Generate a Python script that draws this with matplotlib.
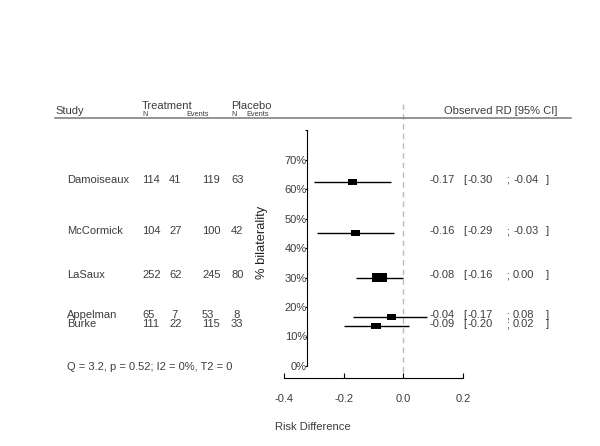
import matplotlib
matplotlib.use("Agg")
import matplotlib.pyplot as plt
from matplotlib import transforms
from matplotlib.lines import Line2D

plt.rcParams['font.family'] = ['Liberation Sans', 'DejaVu Sans']
plt.rcParams['axes.unicode_minus'] = False

# data
studies = ['Damoiseaux', 'McCormick', 'LaSaux', 'Appelman', 'Burke']
trt_n = [114, 104, 252, 65, 111]
trt_events = [41, 27, 62, 7, 22]
pla_n = [119, 100, 245, 53, 115]
pla_events = [63, 42, 80, 8, 33]
rd = [-0.17, -0.16, -0.08, -0.04, -0.09]
ci_lo = [-0.30, -0.29, -0.16, -0.17, -0.20]
ci_hi = [-0.04, -0.03, 0.00, 0.08, 0.02]
bilaterality = [62.5, 45.0, 30.0, 16.5, 13.5]
weight = [21, 20, 44, 21, 25]
het_text = 'Q = 3.2, p = 0.52; I2 = 0%, T2 = 0'
yticks = [0, 10, 20, 30, 40, 50, 60, 70, 80]
xticks = [-0.4, -0.2, 0.0, 0.2]

W, H = 600, 446
col = '#3c3c3c'
fs = 8

fig = plt.figure(figsize=(6, 4.46), dpi=100)
ax = fig.add_axes([284 / W, (H - 366) / H, 179 / W, 236 / H])
ax.set_xlim(-0.4, 0.2)
ax.set_ylim(0, 80)

# CIs and boxes
ax.hlines(bilaterality, ci_lo, ci_hi, color='black', lw=1.0, zorder=3)
rect = [(-1, -0.66), (1, -0.66), (1, 0.66), (-1, 0.66), (-1, -0.66)]
sizes = [((4.5 + w * 0.22) * 0.72) ** 2 for w in weight]
ax.scatter(rd, bilaterality, s=sizes, marker=rect, color='black', lw=0, zorder=4)

# reference line at 0
ax.plot([0, 0], [-2, 89], ls=(0, (4, 3)), color='#bbbbbb', lw=1.0, clip_on=False, zorder=1)

# axes in R style
ax.spines['top'].set_visible(False)
ax.spines['right'].set_visible(False)
ax.spines['left'].set_position(('data', -0.323))
ax.spines['bottom'].set_position(('outward', 8.6))
ax.spines['bottom'].set_bounds(-0.4, 0.2)
ax.set_yticks(yticks)
ax.set_yticklabels([f'{t}%' if t < 80 else '' for t in yticks])
ax.set_xticks(xticks)
ax.set_xticklabels([f'{t:.1f}' for t in xticks])
ax.tick_params(axis='y', direction='out', length=1.5, pad=-1.5, labelsize=fs, labelcolor=col, width=0.8)
ax.tick_params(axis='x', direction='in', length=3.6, pad=11.5, labelsize=fs, labelcolor=col, width=0.8)
ax.set_ylabel('% bilaterality', fontsize=9.3, color='#222222')
ax.yaxis.set_label_coords((268 - 284) / 179, (366 - 242) / 236)
ax.set_xlabel('Risk Difference', fontsize=fs, color=col)
ax.xaxis.set_label_coords((313 - 284) / 179, (366 - 427) / 236)
ax.xaxis.label.set_va('center')

# header
def fx(px):
    return px / W

def fy(py):
    return 1 - py / H

fig.text(fx(55), fy(111), 'Study', fontsize=fs, color=col, va='center')
fig.text(fx(142), fy(106), 'Treatment', fontsize=fs, color=col, va='center')
fig.text(fx(142), fy(115), 'N', fontsize=5.3, color=col, va='center')
fig.text(fx(186), fy(115), 'Events', fontsize=5.3, color=col, va='center')
fig.text(fx(231), fy(106), 'Placebo', fontsize=fs, color=col, va='center')
fig.text(fx(231), fy(115), 'N', fontsize=5.3, color=col, va='center')
fig.text(fx(246), fy(115), 'Events', fontsize=5.3, color=col, va='center')
fig.text(fx(444), fy(111), 'Observed RD [95% CI]', fontsize=fs, color=col, va='center')
fig.add_artist(Line2D([fx(55), fx(571)], [fy(118), fy(118)], transform=fig.transFigure,
                      color='#777777', lw=1.1))

# table rows, y from the plot's data scale
tr = transforms.offset_copy(transforms.blended_transform_factory(fig.transFigure, ax.transData),
                            fig=fig, x=0, y=1.5, units='points')
for i in range(len(studies)):
    y = bilaterality[i]
    fig.text(fx(67), y, studies[i], transform=tr, fontsize=fs, color=col, va='center')
    fig.text(fx(142), y, str(trt_n[i]), transform=tr, fontsize=fs, color=col, va='center')
    fig.text(fx(169), y, str(trt_events[i]).rjust(2), transform=tr, fontsize=fs, color=col, va='center')
    fig.text(fx(202), y, str(pla_n[i]), transform=tr, fontsize=fs, color=col, va='center')
    fig.text(fx(231), y, str(pla_events[i]).rjust(2), transform=tr, fontsize=fs, color=col, va='center')
    fig.text(fx(430), y, f'{rd[i]:.2f}', transform=tr, fontsize=fs, color=col, va='center')
    fig.text(fx(463), y, '[', transform=tr, fontsize=fs, color=col, va='center')
    fig.text(fx(467), y, f'{ci_lo[i]:.2f}', transform=tr, fontsize=fs, color=col, va='center')
    fig.text(fx(506), y, ';', transform=tr, fontsize=fs, color=col, va='center')
    fig.text(fx(513), y, f'{ci_hi[i]:.2f}', transform=tr, fontsize=fs, color=col, va='center')
    fig.text(fx(546), y, ']', transform=tr, fontsize=fs, color=col, va='center')

fig.text(fx(67), fy(367), het_text, fontsize=fs, color=col, va='center')

fig.savefig('out.png', dpi=100)
